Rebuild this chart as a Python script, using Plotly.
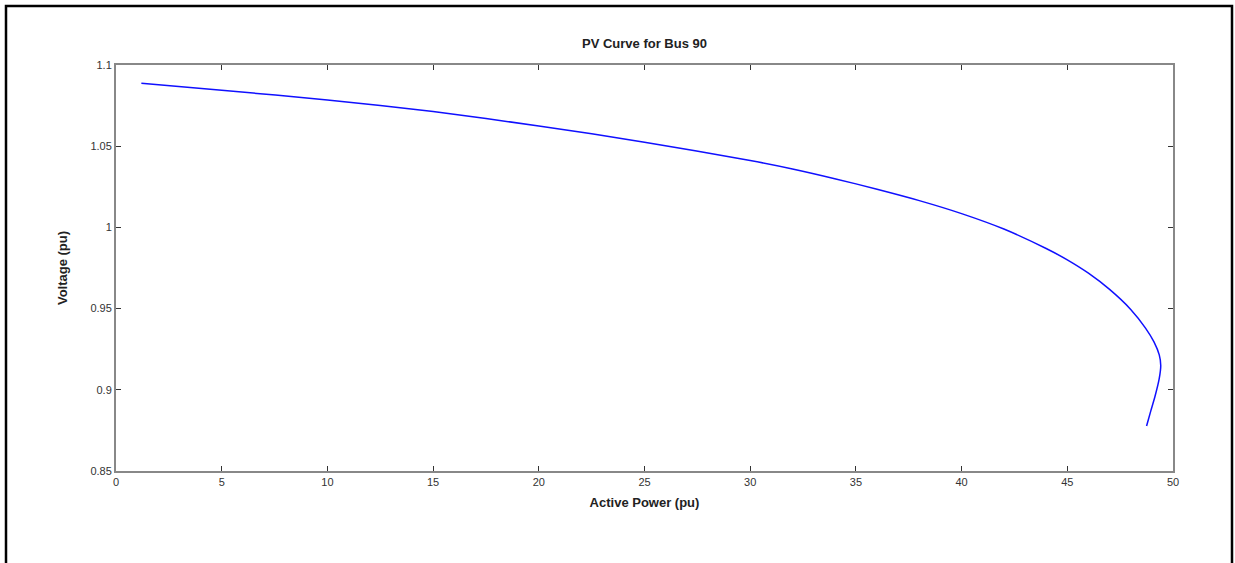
import plotly.graph_objects as go

# Data
active_power = [1.2, 5.0, 10.0, 15.0, 20.0, 25.0, 30.0, 32.0, 34.0, 36.0, 38.0, 40.0, 42.0,
                44.0, 45.0, 46.0, 47.0, 48.0, 48.7, 49.1, 49.35, 49.42, 49.35, 49.15, 48.95, 48.75]
voltage = [1.0887, 1.0844, 1.0785, 1.0713, 1.0625, 1.0525, 1.0412, 1.0360, 1.0300, 1.0235, 1.0165, 1.0085, 0.9990,
           0.9870, 0.9800, 0.9718, 0.9618, 0.9495, 0.9380, 0.9295, 0.9215, 0.9150, 0.9070, 0.8960, 0.8870, 0.8777]

x_ticks = [0, 5, 10, 15, 20, 25, 30, 35, 40, 45, 50]
y_ticks = [0.85, 0.9, 0.95, 1.0, 1.05, 1.1]
y_tick_labels = ["0.85", "0.9", "0.95", "1", "1.05", "1.1"]

L, R, T, B = 116, 62, 65, 92
W, H = 1235, 563
pw, ph = W - L - R, H - T - B

fig = go.Figure()
fig.add_trace(go.Scatter(x=active_power, y=voltage, mode="lines",
                         line=dict(color="#1010ff", width=1.5, shape="spline", smoothing=0.7),
                         showlegend=False))

axis_common = dict(showgrid=False, zeroline=False, showline=True, linecolor="#888888",
                   linewidth=2, ticks="inside", ticklen=5, tickcolor="#333333", tickwidth=1,
                   mirror="ticks", tickfont=dict(family="Liberation Sans, Arial", size=11, color="#333333"))

fig.update_xaxes(range=[0, 50], tickvals=x_ticks, **axis_common,
                 title=dict(text="<b>Active Power (pu)</b>", standoff=11,
                            font=dict(family="Liberation Sans, Arial", size=13, color="#222222")))
fig.update_yaxes(range=[0.85, 1.1], tickvals=y_ticks, ticktext=y_tick_labels, **axis_common,
                 title=dict(text="<b>Voltage (pu)</b>", standoff=20,
                            font=dict(family="Liberation Sans, Arial", size=13, color="#222222")))

# outer black frame of the figure
fig.add_shape(type="rect", xref="paper", yref="paper",
              x0=(6 - L) / pw, x1=(1232 - L) / pw,
              y0=(T + ph - 620) / ph, y1=(T + ph - 6) / ph,
              line=dict(color="black", width=2.5), fillcolor="rgba(0,0,0,0)", layer="below")

fig.update_layout(
    width=W, height=H,
    margin=dict(l=L, r=R, t=T, b=B),
    paper_bgcolor="white", plot_bgcolor="white",
    title=dict(text="<b>PV Curve for Bus 90</b>", x=(L + pw / 2) / W, xanchor="center",
               y=1 - 43 / H, yanchor="middle",
               font=dict(family="Liberation Sans, Arial", size=13, color="#222222")),
)

fig.write_html("out.html")
